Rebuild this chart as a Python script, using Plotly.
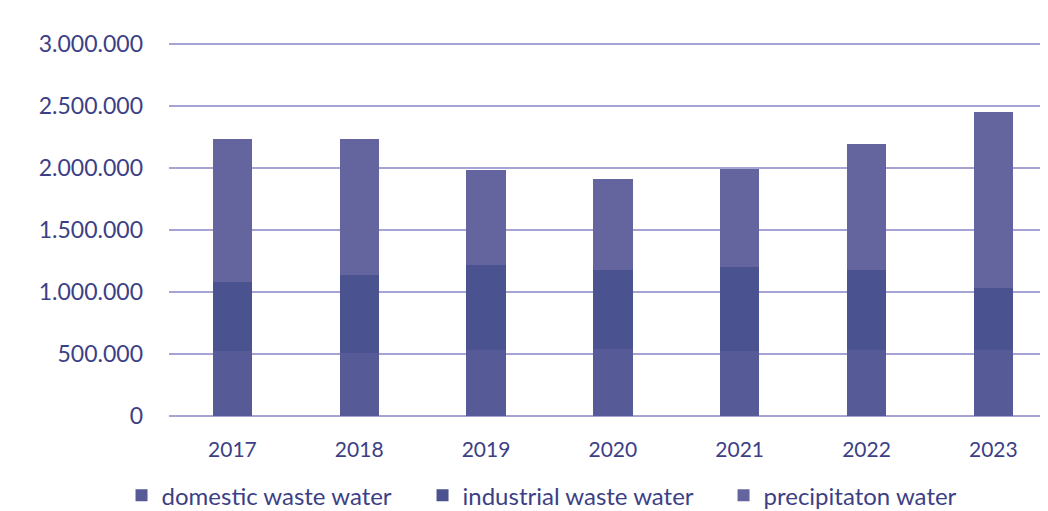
import plotly.graph_objects as go

years = ["2017", "2018", "2019", "2020", "2021", "2022", "2023"]
domestic = [520000, 510000, 530000, 540000, 520000, 530000, 530000]
industrial = [560000, 630000, 690000, 640000, 680000, 650000, 500000]
precipitation = [1150000, 1090000, 760000, 730000, 790000, 1010000, 1420000]
y_ticks = [0, 500000, 1000000, 1500000, 2000000, 2500000, 3000000]

colors = ["#565a97", "#4a528f", "#64659e"]
names = ["domestic waste water", "industrial waste water", "precipitaton water"]
series = [domestic, industrial, precipitation]

fig = go.Figure()
for name, vals, col in zip(names, series, colors):
    fig.add_trace(go.Bar(x=years, y=vals, name=name, marker=dict(color=col, line=dict(width=0))))

txt = "#3d3f86"
fig.update_layout(
    barmode="stack",
    bargap=0.69,
    width=1048, height=511,
    margin=dict(l=160.5, r=16, t=32.3, b=103, autoexpand=False),
    paper_bgcolor="white", plot_bgcolor="white",
    separators=",.",
    font=dict(family="Lato, 'Open Sans', sans-serif", size=21, color=txt),
    legend=dict(orientation="h", x=-0.0545, xanchor="left", y=-0.212, yanchor="middle",
                font=dict(size=24, color=txt), traceorder="normal", itemwidth=30,
                entrywidthmode="pixels", entrywidth=256),
    xaxis=dict(range=[-0.5, 6.368], showgrid=False, showline=False, ticks="",
               ticklabelstandoff=19, tickfont=dict(size=21, color=txt)),
    yaxis=dict(range=[0, 3030000], tickvals=y_ticks, tickformat=",d",
               showgrid=True, gridcolor="#a5a4d4", gridwidth=2, zeroline=True,
               zerolinecolor="#a5a4d4", zerolinewidth=2, showline=False, ticks="",
               ticklabelstandoff=25, tickfont=dict(size=23, color=txt)),
)
fig.write_html("out.html")
